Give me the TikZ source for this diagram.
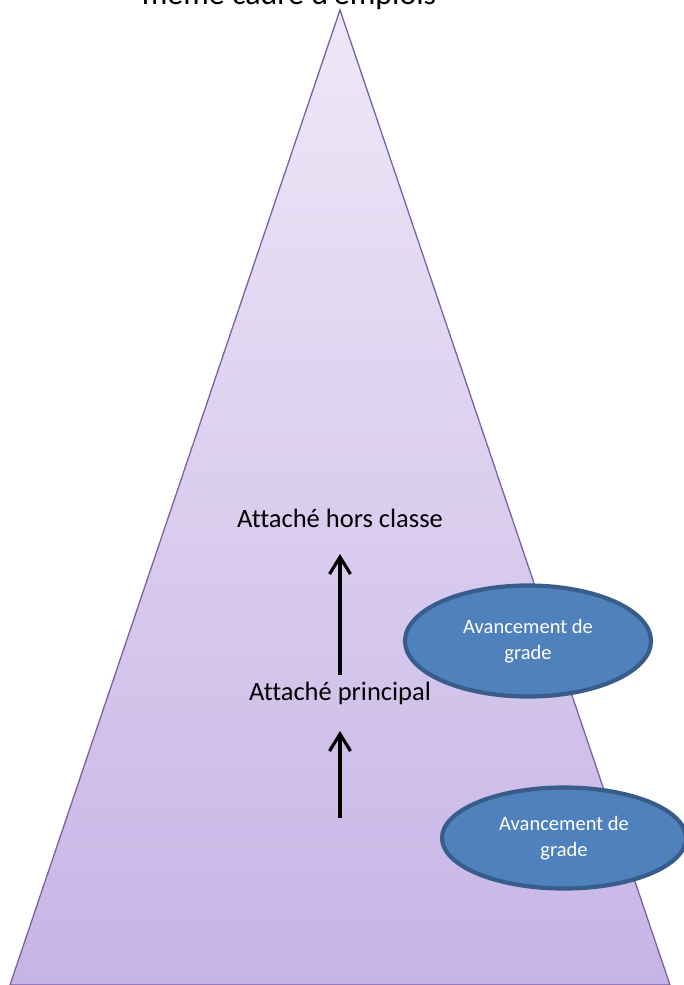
\documentclass[tikz,border=0pt]{standalone}
\usepackage{fontspec}
\setmainfont{Carlito}[Ligatures=NoCommon]
\usetikzlibrary{arrows.meta,shapes.geometric}
\definecolor{triline}{HTML}{7B61A8}
\definecolor{tritop}{HTML}{EEE8F7}
\definecolor{tribot}{HTML}{C7B4E6}
\definecolor{ellfill}{HTML}{4F81BD}
\definecolor{elldraw}{HTML}{385D8A}
\tikzset{
  lbl/.style={font=\fontsize{26.5}{30}\selectfont, inner sep=0pt},
  oval/.style={ellipse, draw=elldraw, line width=4.2pt, fill=ellfill, text=white,
    align=center, font=\fontsize{20.5}{25.5}\selectfont, inner sep=0pt},
  uparrow/.style={line width=3.2pt, -{Straight Barb[length=17pt,width=21pt,line width=3.2pt]}}
}
\begin{document}
\begin{tikzpicture}[x=1pt,y=-1pt]
\useasboundingbox (0,0) rectangle (683,985);
\node[font=\fontsize{32}{38}\selectfont, anchor=base] (title) at (289,5) {même cadre d'emplois};
\path[top color=tritop, bottom color=tribot, draw=triline, line width=1.3pt]
  (340,10) -- (670,985) -- (10,985) -- cycle;
\node[lbl] (hc) at (340,518) {Attaché hors classe};
\node[lbl] (pr) at (340,693) {Attaché principal};
\coordinate (a1s) at (340,675);
\coordinate (a1e) at (340,554);
\coordinate (a2s) at (340,818);
\coordinate (a2e) at (340,731);
\draw[uparrow] (a1s) -- (a1e);
\draw[uparrow] (a2s) -- (a2e);
\node[oval, minimum width=246pt, minimum height=111pt] (e1) at (528,641) {Avancement de\\grade};
\node[oval, minimum width=244pt, minimum height=101pt] (e2) at (564,838) {Avancement de\\grade};
\end{tikzpicture}
\end{document}
